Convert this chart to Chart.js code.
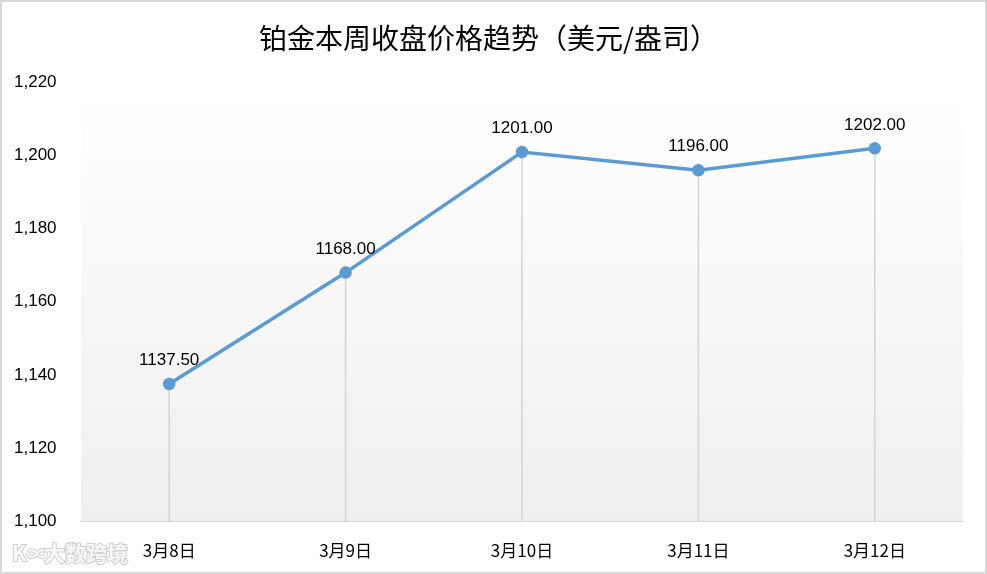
<!DOCTYPE html>
<html>
<head>
<meta charset="utf-8">
<script src="https://cdn.jsdelivr.net/npm/chart.js@4"></script>
<style>
  html, body { margin: 0; padding: 0; background: #fff; }
  #wrap { width: 987px; height: 574px; }
</style>
</head>
<body>
<div id="wrap"><canvas id="grafico" width="987" height="574"></canvas></div>
<script>
// datos del grafico
const fechas = ['3月8日', '3月9日', '3月10日', '3月11日', '3月12日'];
const precios = [1137.5, 1168, 1201, 1196, 1202];
const titulo = '铂金本周收盘价格趋势（美元/盎司）';
const marca = '大数跨境';

// fondo, borde, lineas verticales y etiquetas
const extras = {
    id: 'extras',
    beforeDraw(chart) {
        const { ctx, chartArea: a } = chart;
        ctx.save();
        ctx.fillStyle = '#fff';
        ctx.fillRect(0, 0, chart.width, chart.height);
        const g = ctx.createLinearGradient(0, a.top, 0, a.bottom);
        g.addColorStop(0, '#ffffff');
        g.addColorStop(1, '#efefef');
        ctx.fillStyle = g;
        ctx.fillRect(a.left, a.top, a.right - a.left, a.bottom - a.top);
        ctx.strokeStyle = '#d9d9d9';
        ctx.lineWidth = 2;
        ctx.strokeRect(1, 1, chart.width - 2, chart.height - 2);
        ctx.restore();
    },
    beforeDatasetsDraw(chart) {
        const { ctx, chartArea: a } = chart;
        const pts = chart.getDatasetMeta(0).data;
        ctx.save();
        ctx.strokeStyle = '#d4d4d4';
        ctx.lineWidth = 1.5;
        pts.forEach(p => {
            ctx.beginPath();
            ctx.moveTo(p.x, p.y);
            ctx.lineTo(p.x, a.bottom);
            ctx.stroke();
        });
        ctx.restore();
    },
    afterDatasetsDraw(chart) {
        const { ctx } = chart;
        const pts = chart.getDatasetMeta(0).data;
        ctx.save();
        ctx.fillStyle = '#000';
        ctx.font = '17px "Liberation Sans", "DejaVu Sans", sans-serif';
        ctx.textAlign = 'center';
        ctx.textBaseline = 'bottom';
        pts.forEach((p, i) => {
            ctx.fillText(precios[i].toFixed(2), p.x, p.y - 15);
        });
        // marca de agua
        ctx.font = 'bold 21px "Noto Sans CJK SC", sans-serif';
        ctx.textAlign = 'left';
        ctx.textBaseline = 'middle';
        ctx.lineWidth = 2;
        ctx.strokeStyle = '#cfcfcf';
        ctx.fillStyle = '#f7f7f7';
        ctx.strokeText('K∞', 12, 553);
        ctx.fillText('K∞', 12, 553);
        ctx.strokeText(marca, 44, 553);
        ctx.fillText(marca, 44, 553);
        ctx.restore();
    }
};

const ctx = document.getElementById('grafico').getContext('2d');
new Chart(ctx, {
    type: 'line',
    data: {
        labels: fechas,
        datasets: [{
            data: precios,
            borderColor: '#5b9bd5',
            backgroundColor: '#5b9bd5',
            borderWidth: 3.5,
            pointRadius: 4.5,
            pointHoverRadius: 4.5,
            tension: 0,
            fill: false
        }]
    },
    options: {
        responsive: false,
        animation: false,
        layout: { padding: { left: 14, right: 24, top: 0, bottom: 0 } },
        plugins: {
            legend: { display: false },
            tooltip: { enabled: false },
            title: {
                display: true,
                text: titulo,
                color: '#000',
                font: { family: '"Noto Sans CJK SC", sans-serif', size: 28, weight: 'normal' },
                padding: { top: 22, bottom: 27 }
            }
        },
        scales: {
            x: {
                offset: true,
                grid: { display: false },
                border: { display: true, color: '#d9d9d9', width: 1 },
                ticks: {
                    color: '#000',
                    padding: 11,
                    font: { family: '"Noto Sans CJK SC", sans-serif', size: 17 }
                },
                afterFit(s) { s.height = 53; }
            },
            y: {
                min: 1100,
                max: 1220,
                grid: { display: false },
                border: { display: false },
                ticks: {
                    stepSize: 20,
                    color: '#000',
                    crossAlign: 'far',
                    font: { family: '"Liberation Sans", "DejaVu Sans", sans-serif', size: 17 },
                    callback: v => v.toLocaleString('en-US')
                },
                afterFit(s) { s.width = 67; }
            }
        }
    },
    plugins: [extras]
});
</script>
</body>
</html>
